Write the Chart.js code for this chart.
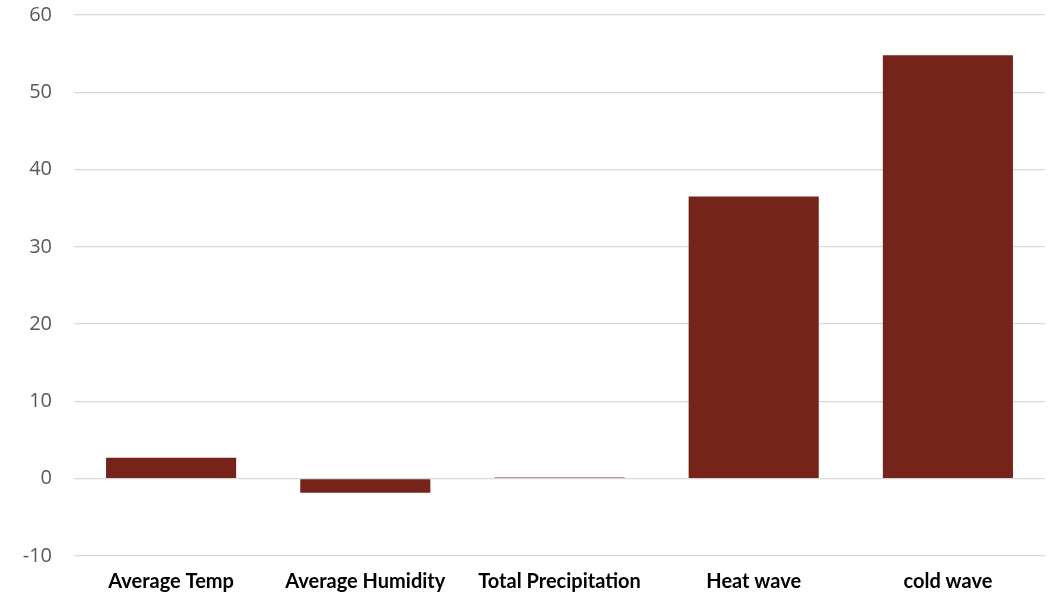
<!DOCTYPE html>
<html>
<head>
<meta charset="utf-8">
<script src="https://cdn.jsdelivr.net/npm/chart.js@4/dist/chart.umd.min.js"></script>
<style>
  html, body { margin: 0; padding: 0; background: #fff; }
  #wrap { width: 1061px; height: 594px; position: relative; }
</style>
</head>
<body>
<div id="wrap"><canvas id="chart"></canvas></div>
<script>
  const categories = ["Average Temp", "Average Humidity", "Total Precipitation", "Heat wave", "cold wave"];
  const values = [2.7, -1.8, 0.15, 36.5, 54.8];
  const yMin = -10, yMax = 60, yStep = 10;

  new Chart(document.getElementById("chart"), {
    type: "bar",
    data: {
      labels: categories,
      datasets: [{
        data: values,
        backgroundColor: "#76231a",
        borderWidth: 0,
        categoryPercentage: 0.67,
        barPercentage: 1,
      }],
    },
    options: {
      responsive: true,
      maintainAspectRatio: false,
      animation: false,
      layout: { padding: { left: 16, right: 16, top: 0, bottom: 0 } },
      plugins: { legend: { display: false }, tooltip: { enabled: false } },
      scales: {
        x: {
          grid: { display: false, drawTicks: false },
          border: { display: false },
          afterFit: (s) => { s.height = 38; s.paddingLeft = 0; s.paddingRight = 0; },
          ticks: {
            color: "#000",
            padding: 14,
            font: { family: "Lato, 'Open Sans', sans-serif", size: 20, weight: "bold" },
          },
        },
        y: {
          min: yMin,
          max: yMax,
          grid: { color: "#d9d9d9", lineWidth: 1.3, drawTicks: false },
          border: { display: false },
          afterFit: (s) => { s.width = 58; s.paddingTop = 15; s.paddingBottom = 0; },
          ticks: {
            stepSize: yStep,
            color: "#595959",
            padding: 22,
            font: { family: "'Open Sans', sans-serif", size: 20 },
          },
        },
      },
    },
  });
</script>
</body>
</html>
